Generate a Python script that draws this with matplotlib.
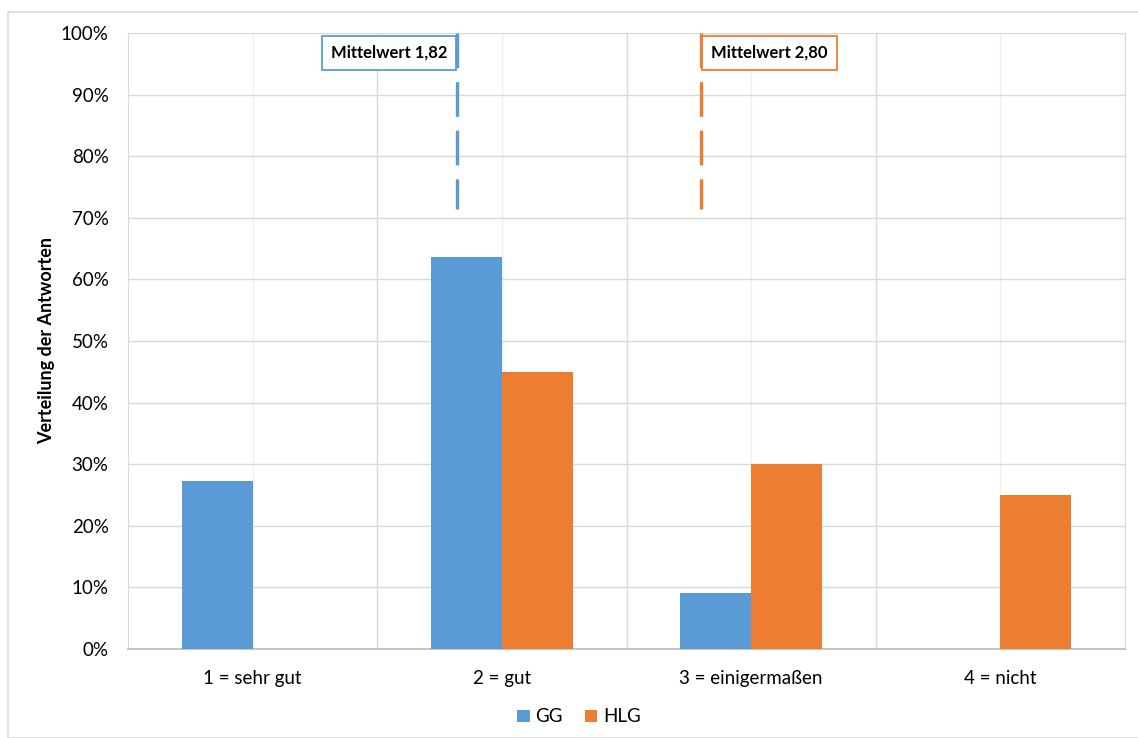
import numpy as np
import matplotlib.pyplot as plt
from matplotlib.patches import Rectangle

plt.rcParams['font.family'] = ['Lato', 'DejaVu Sans']
plt.rcParams['lines.scale_dashes'] = False

# Antwortverteilung
kategorien = ['1 = sehr gut', '2 = gut', '3 = einigermaßen', '4 = nicht']
gg = [0.273, 0.636, 0.091, 0.0]
hlg = [0.0, 0.45, 0.30, 0.25]
gruppen = ['GG', 'HLG']
farben = ['#5B9BD5', '#ED7D31']
mittelwerte = [1.82, 2.80]
mittel_texte = ['Mittelwert 1,82', 'Mittelwert 2,80']

fig = plt.figure(figsize=(11.38, 7.38), dpi=100)
# Rahmen um die Grafik
fig.patches.append(Rectangle((8/1138, 0.0), 1.0, 1 - 12/738, transform=fig.transFigure,
                             fill=False, edgecolor='#d9d9d9', linewidth=1.2))
ax = fig.add_axes([0.1125, 0.1206, 0.8761, 0.8347])

x = np.arange(1, len(kategorien) + 1)
w = 0.285
ax.bar(x - w/2, gg, w, color=farben[0], label=gruppen[0], zorder=3)
ax.bar(x + w/2, hlg, w, color=farben[1], label=gruppen[1], zorder=3)

# Mittelwertlinien mit Beschriftung
for m, txt, c, side in zip(mittelwerte, mittel_texte, farben, [-1, 1]):
    ax.plot([m, m], [1.0, 0.715], color=c, linewidth=2.4,
            linestyle=(0, (25, 10)), zorder=4, solid_capstyle='butt', dash_capstyle='butt')
    ax.annotate(txt, xy=(m, 0.9675), xytext=(side * 7, 0), textcoords='offset points',
                ha='right' if side < 0 else 'left', va='center', fontsize=12,
                fontweight='bold', color='black', zorder=5,
                bbox=dict(boxstyle='square,pad=0.55', facecolor='white', edgecolor=c, linewidth=1.3))

ax.set_xlim(0.5, 4.5)
ax.set_ylim(0, 1.0)
ax.set_yticks(np.arange(0, 1.01, 0.1))
ax.set_yticklabels([f'{int(round(v*100))}%' for v in np.arange(0, 1.01, 0.1)], fontsize=13.5)
ax.set_xticks(x)
ax.set_xticklabels(kategorien, fontsize=13.5)
ax.set_xticks([1.5, 2.5, 3.5], minor=True)
ax.tick_params(axis='both', which='both', length=0)
ax.tick_params(axis='x', pad=15)
ax.tick_params(axis='y', pad=14)

ax.grid(axis='y', color='#d9d9d9', linewidth=1.0, zorder=0)
ax.grid(axis='x', which='minor', color='#d9d9d9', linewidth=1.0, zorder=0)
ax.grid(axis='x', which='major', color='#eeeeee', linewidth=1.0, zorder=0)

ax.spines['top'].set_visible(False)
ax.spines['left'].set_color('#d9d9d9')
ax.spines['right'].set_color('#d9d9d9')
ax.spines['bottom'].set_color('#bfbfbf')
ax.spines['bottom'].set_linewidth(1.3)

ax.set_ylabel('Verteilung der Antworten', fontsize=13, fontweight='bold', labelpad=4)

fig.legend(loc='center', bbox_to_anchor=(579/1138, 1 - 717/738), ncol=2, frameon=False,
           fontsize=13.5, handlelength=0.65, handleheight=0.65, handletextpad=0.3, columnspacing=1.2)

fig.savefig('out.png', dpi=100)
